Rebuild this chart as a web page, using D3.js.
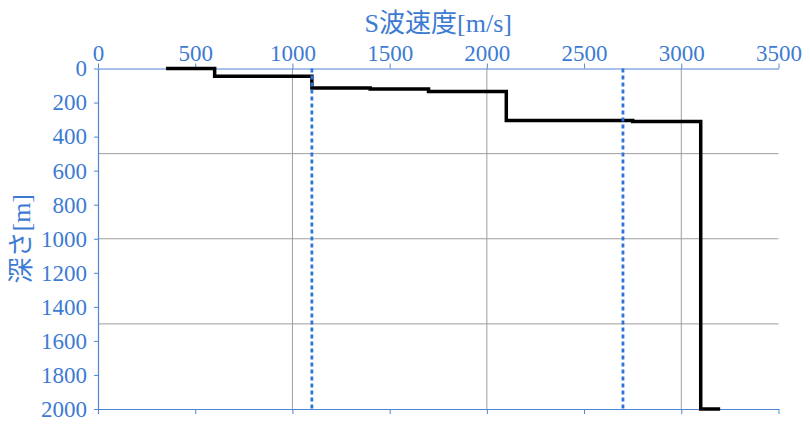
<!DOCTYPE html>
<html><head><meta charset="utf-8">
<script src="https://cdn.jsdelivr.net/npm/d3@7"></script>
<style>
html,body{margin:0;padding:0;background:#fff;}
svg{display:block;}
text{font-family:"Liberation Serif","Times New Roman","Noto Sans CJK JP",serif;}
</style></head>
<body>
<svg id="chart" width="810" height="426"></svg>
<script>
// Step profile vertices (S-wave velocity [m/s], depth [m])
const velocity = [350, 600, 600, 1100, 1100, 1400, 1400, 1700, 1700, 2100, 2100, 2750, 2750, 3100, 3100, 3200];
const depth    = [0,   0,   45,  45,   115,  115,  120,  120,  135,  135,  305,  305,  312,  312,  2000, 2000];
// Reference (dotted) velocities
const refVelocity = [1100, 2700];
// Ticks
const xTicks = [0, 500, 1000, 1500, 2000, 2500, 3000, 3500];
const yTicks = [0, 200, 400, 600, 800, 1000, 1200, 1400, 1600, 1800, 2000];
const xGrid = [1000, 2000, 3000];
const yGrid = [500, 1000, 1500];
const xTitle = "S波速度[m/s]";
const yTitle = "深さ[m]";

const svg = d3.select("#chart");
const m = {left: 98, top: 68.5, right: 31.5, bottom: 17};
const W = 810 - m.left - m.right, H = 426 - m.top - m.bottom;
const x = d3.scaleLinear().domain([0, 3500]).range([0, W]);
const y = d3.scaleLinear().domain([0, 2000]).range([0, H]);
const g = svg.append("g").attr("transform", `translate(${m.left},${m.top})`);

const blue = "#3d7bd3", axisBlue = "#4f86d2", grid = "#9e9e9e";
const fmt = d3.format("d");

// gridlines
g.selectAll(".gx").data(xGrid).join("line")
  .attr("x1", d => x(d)).attr("x2", d => x(d)).attr("y1", 0).attr("y2", H)
  .attr("stroke", grid).attr("stroke-width", 1);
g.selectAll(".gy").data(yGrid).join("line")
  .attr("x1", 0).attr("x2", W).attr("y1", d => y(d)).attr("y2", d => y(d))
  .attr("stroke", grid).attr("stroke-width", 1);

// axes
const ax = g.append("g").call(d3.axisTop(x).tickValues(xTicks).tickFormat(fmt).tickSize(5).tickSizeOuter(0).tickPadding(3));
const axB = g.append("g").attr("transform", `translate(0,${H})`)
  .call(d3.axisBottom(x).tickValues(xTicks).tickSize(5).tickSizeOuter(0).tickFormat(""));
const ay = g.append("g").call(d3.axisLeft(y).tickValues(yTicks).tickFormat(fmt).tickSize(4).tickSizeOuter(0).tickPadding(7));
[ax, axB, ay].forEach(a => {
  a.select(".domain").attr("stroke", axisBlue).attr("stroke-width", 1.2);
  a.selectAll(".tick line").attr("stroke", axisBlue);
  a.selectAll("text").attr("fill", blue).attr("font-size", 23)
    .attr("font-family", "'Liberation Serif','Times New Roman',serif");
});

// step line
const pts = velocity.map((v, i) => [x(v), y(depth[i])]);
g.append("path").attr("d", d3.line()(pts))
  .attr("fill", "none").attr("stroke", "#000").attr("stroke-width", 3.5)
  .attr("stroke-linejoin", "miter").attr("stroke-linecap", "butt");

// dotted reference lines
g.selectAll(".ref").data(refVelocity).join("line")
  .attr("x1", d => x(d)).attr("x2", d => x(d)).attr("y1", 0).attr("y2", H)
  .attr("stroke", "#2f74d8").attr("stroke-width", 2.8).attr("stroke-dasharray", "4,3");

// titles
svg.append("text").attr("x", m.left + W / 2).attr("y", 32)
  .attr("text-anchor", "middle").attr("fill", blue).attr("font-size", 26).text(xTitle);
svg.append("text").attr("transform", `translate(30,${m.top + H / 2}) rotate(-90)`)
  .attr("text-anchor", "middle").attr("fill", blue).attr("font-size", 26).text(yTitle);
</script>
</body></html>
